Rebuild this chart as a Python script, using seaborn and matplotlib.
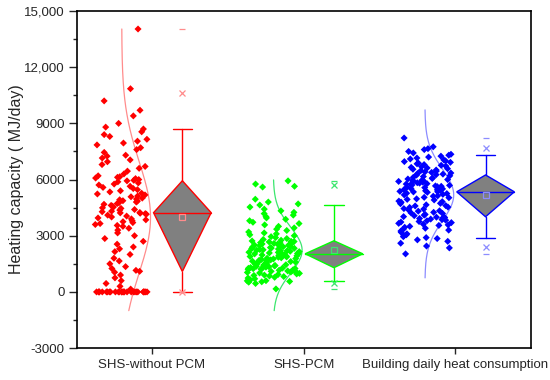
import numpy as np
import pandas as pd
import matplotlib
matplotlib.use("Agg")
import matplotlib.pyplot as plt
from matplotlib.ticker import FuncFormatter, MultipleLocator
from matplotlib.patches import Polygon
import seaborn as sns

# Categories and colours
CATEGORIES = ["SHS-without PCM", "SHS-PCM", "Building daily heat consumption"]
COLORS = ["#FF0000", "#00FF00", "#0000FF"]
LIGHT = ["#FF8C8C", "#3CE66E", "#8C8CFF"]

# Daily heating capacity (MJ/day)
SHS_NO_PCM = [
    0, 0, 0, 0, 0, 0, 0, 0, 0, 0, 0, 0, 0, 0, 0, 0, 0, 0, 0, 0,
    0, 0, 0, 0, 0, 0, 0, 0, 150, 300, 450, 600, 750, 900,
    1050, 1100, 1150, 1250, 1350, 1500, 1650, 1800, 2000, 2150,
    2300, 2400, 2550, 2700, 2850, 3000, 3150, 3300, 3400, 3500,
    3550, 3600, 3650, 3700, 3750, 3800, 3850, 3900, 3950, 4000,
    4050, 4100, 4150, 4180, 4200, 4220,
    4240, 4280, 4310, 4370, 4400, 4460, 4490, 4530, 4580, 4620,
    4680, 4720, 4760, 4800, 4850, 4870, 4920, 4960, 5010, 5080,
    5120, 5180, 5230, 5270, 5340, 5400, 5460, 5520, 5580, 5640,
    5710, 5760, 5820, 5880, 5930,
    5960, 6000, 6050, 6080, 6120, 6150, 6200, 6300, 6450, 6600,
    6700, 6800, 6950, 7050, 7150, 7250, 7300, 7450, 7600, 7700,
    7850, 7950, 8050, 8150, 8300, 8400, 8550, 8700,
    8800, 9000, 9400, 9700, 10200, 10850, 14040,
]
SHS_PCM = [
    160, 450, 520, 540, 560, 580, 590, 600,
    650, 700, 740, 780, 820, 850, 880, 900, 930, 960,
    990, 1010, 1040, 1060, 1080, 1100, 1120, 1140, 1160, 1180,
    1200, 1210, 1230, 1240, 1250, 1260, 1270,
    1300, 1320, 1340, 1370, 1390, 1410, 1430, 1450, 1480, 1500,
    1520, 1550, 1570, 1590, 1620, 1640, 1660, 1690, 1710, 1730,
    1760, 1780, 1800, 1820, 1850, 1870, 1890, 1910, 1930, 1950,
    1970, 1990, 2000, 2010, 2030,
    2040, 2050, 2080, 2110, 2120, 2150, 2170, 2190, 2200, 2230,
    2250, 2260, 2290, 2310, 2330, 2340, 2370, 2390, 2410, 2420,
    2450, 2470, 2490, 2500, 2530, 2550, 2560, 2590, 2610, 2630,
    2640, 2670, 2690, 2700, 2720,
    2760, 2800, 2850, 2900, 2950, 3000, 3050, 3100, 3150, 3200,
    3280, 3350, 3420, 3500, 3580, 3650, 3720, 3800, 3880, 3950,
    4020, 4100, 4180, 4250, 4330, 4420, 4530, 4640,
    4700, 4800, 4950, 5600, 5640, 5760, 5930,
]
BUILDING = [
    2030, 2350, 2450, 2600, 2700, 2780, 2850, 2900,
    2950, 3000, 3050, 3100, 3180, 3250, 3300, 3350, 3400, 3450,
    3500, 3550, 3580, 3620, 3660, 3700, 3730, 3760, 3800, 3830,
    3860, 3890, 3920, 3940, 3960, 3980, 3990,
    4020, 4070, 4100, 4140, 4190, 4220, 4250, 4310, 4330, 4370,
    4420, 4450, 4510, 4530, 4590, 4610, 4650, 4710, 4730, 4790,
    4820, 4850, 4910, 4940, 4970, 5030, 5050, 5110, 5130, 5180,
    5210, 5250, 5270, 5320, 5340,
    5350, 5370, 5400, 5420, 5450, 5470, 5500, 5520, 5540, 5570,
    5590, 5620, 5640, 5660, 5690, 5710, 5740, 5760, 5780, 5810,
    5830, 5860, 5880, 5900, 5930, 5950, 5980, 6000, 6030, 6060,
    6090, 6120, 6160, 6200, 6240,
    6260, 6290, 6320, 6350, 6380, 6410, 6450, 6480, 6510, 6550,
    6580, 6620, 6650, 6690, 6720, 6760, 6800, 6840, 6880, 6920,
    6960, 7000, 7050, 7100, 7150, 7200, 7250, 7300,
    7350, 7420, 7500, 7600, 7650, 7750, 8220,
]
SERIES = [SHS_NO_PCM, SHS_PCM, BUILDING]

# y-range covered by each normal curve
CURVE_LO = [-1000, -1000, 750]
CURVE_HI = [14040, 5980, 9720]

SHIFT = 0.2      # scatter to the left of the tick, box to the right
HALF_W = 0.19    # half width of the diamond / scatter band
CAP_W = 0.063

sns.set_style("ticks")
plt.rcParams["font.family"] = ["Liberation Sans", "DejaVu Sans"]

fig = plt.figure(figsize=(5.5, 3.8), dpi=100)
ax = fig.add_axes([0.14, 0.084, 0.8255, 0.887])
ax.set_xlim(-0.495, 2.5)
ax.set_ylim(-3000, 15000)

rows = []
for i, (name, vals) in enumerate(zip(CATEGORIES, SERIES)):
    for v in vals:
        rows.append({"pos": i - SHIFT, "value": v, "group": name})
df = pd.DataFrame(rows)

np.random.seed(7)  # fixed jitter
sns.stripplot(data=df, x="pos", y="value", hue="group", hue_order=CATEGORIES,
              palette=dict(zip(CATEGORIES, COLORS)), native_scale=True,
              jitter=HALF_W * 0.92, size=3.6, marker="D", linewidth=0,
              legend=False, ax=ax, zorder=3)

for i, vals in enumerate(SERIES):
    v = np.asarray(vals, dtype=float)
    col, light = COLORS[i], LIGHT[i]
    base = i - SHIFT
    c = i + SHIFT

    # normal curve next to the points
    mu, sd = v.mean(), v.std()
    yy = np.linspace(CURVE_LO[i], CURVE_HI[i], 300)
    xx = base + HALF_W * np.exp(-0.5 * ((yy - mu) / sd) ** 2)
    ax.plot(xx, yy, color=light, lw=0.9, zorder=2)

    # diamond box
    p1, p5, q1, med, q3, p95, p99 = np.percentile(v, [1, 5, 25, 50, 75, 95, 99])
    ax.add_patch(Polygon([(c, q3), (c + HALF_W, med), (c, q1), (c - HALF_W, med)],
                         closed=True, facecolor="#808080", edgecolor=col,
                         lw=1.0, zorder=3))
    ax.plot([c - HALF_W, c + HALF_W], [med, med], color=col, lw=1.0, zorder=4)
    ax.plot([c, c], [q3, p95], color=col, lw=1.0, zorder=3)
    ax.plot([c, c], [q1, p5], color=col, lw=1.0, zorder=2)
    ax.plot([c - CAP_W, c + CAP_W], [p95, p95], color=col, lw=1.0, zorder=3)
    ax.plot([c - CAP_W, c + CAP_W], [p5, p5], color=col, lw=1.0, zorder=3)
    ax.plot([c], [mu], marker="s", ms=4, mfc="none", mec=light, mew=0.9, zorder=5)
    ax.plot([c, c], [p1, p99], ls="none", marker="x", ms=4, mec=light, mew=0.9, zorder=5)
    ax.plot([c, c], [v.min(), v.max()], ls="none", marker="_", ms=4, mec=light,
            mew=0.9, zorder=5)

ax.set_xlim(-0.495, 2.5)
ax.set_ylim(-3000, 15000)
ax.set_xticks([0, 1, 2])
ax.set_xticklabels(CATEGORIES, fontsize=9.5)
ax.set_xlabel("")
ax.yaxis.set_major_locator(MultipleLocator(3000))
ax.yaxis.set_minor_locator(MultipleLocator(1500))
ax.yaxis.set_major_formatter(FuncFormatter(
    lambda v, p: f"{v:,.0f}" if abs(v) >= 10000 else f"{v:.0f}"))
ax.tick_params(axis="y", labelsize=9.5, length=5.5, width=1.0, direction="out")
ax.tick_params(axis="y", which="minor", length=3, width=1.0)
ax.tick_params(axis="x", length=4, width=1.0, direction="out", pad=4)
ax.set_ylabel("Heating capacity ( MJ/day)", fontsize=11.5, labelpad=0)

for s in ax.spines.values():
    s.set_visible(True)
    s.set_linewidth(1.2)
    s.set_color("black")

fig.savefig("out.png", dpi=100)
